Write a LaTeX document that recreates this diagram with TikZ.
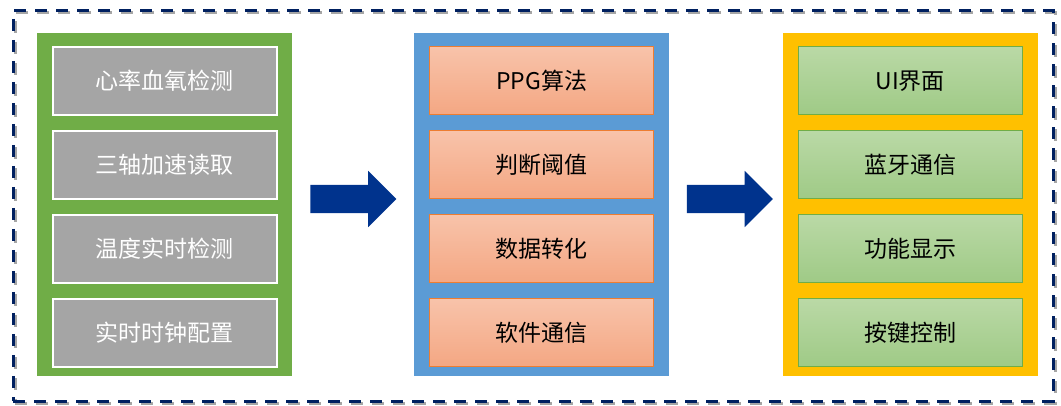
\documentclass[tikz,border=0pt]{standalone}
\usepackage{fontspec}
\setmainfont{Noto Sans CJK SC}
\usetikzlibrary{positioning}
\usetikzlibrary{shapes}
\usetikzlibrary{shapes.arrows}

\definecolor{framenavy}{HTML}{002060}
\definecolor{arrowblue}{HTML}{00338D}
\definecolor{panelgreen}{HTML}{70AD47}
\definecolor{panelblue}{HTML}{5B9BD5}
\definecolor{panelyellow}{HTML}{FFC000}
\definecolor{itemgrey}{HTML}{A5A5A5}
\definecolor{orangetop}{HTML}{F8C3AA}
\definecolor{orangebottom}{HTML}{F4A783}
\definecolor{orangeline}{HTML}{ED7D31}
\definecolor{greentop}{HTML}{BAD9A6}
\definecolor{greenbottom}{HTML}{9FCA86}

\begin{document}
\begin{tikzpicture}[x=1pt, y=1pt]
\tikzset{
   node distance = 16pt,
   frame/.style = {rectangle, draw = framenavy, line width = 3pt, dash pattern = on 12pt off 9pt,
                   minimum width = 1040pt, minimum height = 390pt, inner sep = 0pt,
                   preaction = {draw = black!35, line width = 3pt, dash pattern = on 12pt off 9pt,
                                transform canvas = {xshift = 2pt, yshift = -2pt}}},
   panel/.style = {rectangle, inner sep = 0pt, minimum width = 255pt, minimum height = 343pt},
   item/.style = {rectangle, inner sep = 0pt, outer sep = 0pt, minimum width = 224pt, minimum height = 68pt,
                  font = \fontsize{23pt}{27pt}\selectfont},
   sensor/.style = {item, fill = itemgrey, draw = white, line width = 2pt, text = white},
   algo/.style = {item, top color = orangetop, bottom color = orangebottom, draw = orangeline, line width = 1pt},
   app/.style = {item, top color = greentop, bottom color = greenbottom, draw = panelgreen, line width = 1pt},
   flow/.style = {single arrow, fill = arrowblue, inner sep = 14pt, minimum height = 86pt,
                  single arrow head extend = 14pt, single arrow tip angle = 90, node distance = 18pt}
}
\useasboundingbox (0,0) rectangle (1061,-406);

  \node[frame] (outer) at (533,-206) {};

  % three columns
  \node[panel, fill = panelgreen] (hw) at (164.5,-204.5) {};
  \node[panel, fill = panelblue] (mcu) [right = 122pt of hw] {};
  \node[panel, fill = panelyellow] (ui) [right = 113pt of mcu] {};

  % hardware modules
  \node[sensor] (hr) [below = 14pt of hw.north] {心率血氧检测};
  \node[sensor] (accel) [below = of hr] {三轴加速读取};
  \node[sensor] (temp) [below = of accel] {温度实时检测};
  \node[sensor] (rtc) [below = of temp] {实时时钟配置};

  % processing
  \node[algo] (ppg) [below = 14pt of mcu.north] {PPG算法};
  \node[algo] (thresh) [below = of ppg] {判断阈值};
  \node[algo] (convert) [below = of thresh] {数据转化};
  \node[algo] (softcomm) [below = of convert] {软件通信};

  % user side
  \node[app] (screen) [below = 14pt of ui.north] {UI界面};
  \node[app] (ble) [below = of screen] {蓝牙通信};
  \node[app] (show) [below = of ble] {功能显示};
  \node[app] (keys) [below = of show] {按键控制};

  % block arrows between columns
  \node[flow] (hw_to_mcu) [right = of hw, yshift = 5.5pt] {};
  \node[flow] (mcu_to_ui) [right = 17pt of mcu, yshift = 5.5pt] {};

\end{tikzpicture}
\end{document}
